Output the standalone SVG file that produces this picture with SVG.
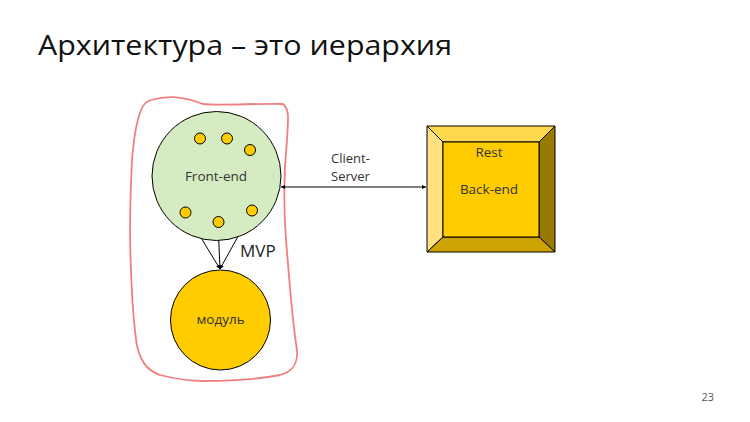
<svg xmlns="http://www.w3.org/2000/svg" width="750" height="422" viewBox="0 0 750 422">
<style>
.t{font-family:"Open Sans","Noto Sans","Liberation Sans",sans-serif;fill:#333}
.s{font-size:13.5px}
.ln{stroke:#000;stroke-width:1;fill:none}
.dot{fill:#ffcc00;stroke:#000;stroke-width:1}
</style>
<defs>
<marker id="ah" viewBox="0 0 6 6" refX="6" refY="3" markerWidth="4" markerHeight="4" orient="auto-start-reverse">
<path d="M0,0 L6,3 L0,6 z" fill="#000"/>
</marker>
</defs>
<rect width="750" height="422" fill="#fff"/>
<text x="38" y="55" class="t" font-size="28" style="fill:#111" textLength="414" lengthAdjust="spacingAndGlyphs">Архитектура – это иерархия</text>
<text x="714" y="401" class="t" font-size="11" text-anchor="end" style="fill:#555">23</text>

<g id="boundary">
<path d="M151,100 C165,96 180,95 203,104 C220,106 260,103 283,104 C290,110 288,120 287,140 C284,170 283,200 286,240 C289,275 292,320 297,350 C298,365 292,372 280,375 C255,380 230,381 203,381 C185,381 172,378 160,375 C145,370 140,358 137,346 C133,320 132,300 131,270 C129,230 130,200 132,160 C134,135 137,120 141,110 C144,103 147,101 151,100 Z" fill="none" stroke="#f08080" stroke-width="1.8"/>
</g>

<g id="connectors">
<line class="ln" x1="186" y1="213" x2="220" y2="269" marker-end="url(#ah)"/>
<line class="ln" x1="218" y1="223" x2="220" y2="269" marker-end="url(#ah)"/>
<line class="ln" x1="252" y1="211" x2="220" y2="269" marker-end="url(#ah)"/>
<line class="ln" x1="281" y1="187" x2="426" y2="187" marker-start="url(#ah)" marker-end="url(#ah)"/>
<text x="331" y="163" class="t" font-size="13">Client-</text>
<text x="331" y="181" class="t" font-size="13">Server</text>
<text x="240" y="257" class="t" font-size="17" style="fill:#222">MVP</text>
</g>

<g id="frontend">
<circle cx="216.5" cy="176" r="64.5" fill="#d5ecc2" stroke="#000" stroke-width="1"/>
<text x="216" y="181" class="t s" text-anchor="middle">Front-end</text>
<circle class="dot" cx="200" cy="138.5" r="5.5"/>
<circle class="dot" cx="227" cy="138.5" r="5.5"/>
<circle class="dot" cx="250" cy="150" r="5.5"/>
<circle class="dot" cx="185.5" cy="212.5" r="5.5"/>
<circle class="dot" cx="218.5" cy="222" r="5.5"/>
<circle class="dot" cx="252" cy="210.5" r="5.5"/>
</g>

<g id="module">
<circle cx="220.5" cy="320" r="50" fill="#ffcc00" stroke="#000" stroke-width="1"/>
<text x="220.5" y="324" class="t s" text-anchor="middle">модуль</text>
</g>

<g id="backend">
<polygon points="427,126 555,126 539,142 443,142" fill="#ffd94d" stroke="#000" stroke-width="1"/>
<polygon points="427,126 443,142 443,237 427,252" fill="#ffe180" stroke="#000" stroke-width="1"/>
<polygon points="555,126 555,252 539,237 539,142" fill="#997a00" stroke="#000" stroke-width="1"/>
<polygon points="427,252 443,237 539,237 555,252" fill="#cca300" stroke="#000" stroke-width="1"/>
<rect x="443" y="142" width="96" height="95" fill="#ffcc00" stroke="#000" stroke-width="1"/>
<text x="489" y="157" class="t s" text-anchor="middle">Rest</text>
<text x="489" y="194" class="t s" text-anchor="middle">Back-end</text>
</g>
</svg>
